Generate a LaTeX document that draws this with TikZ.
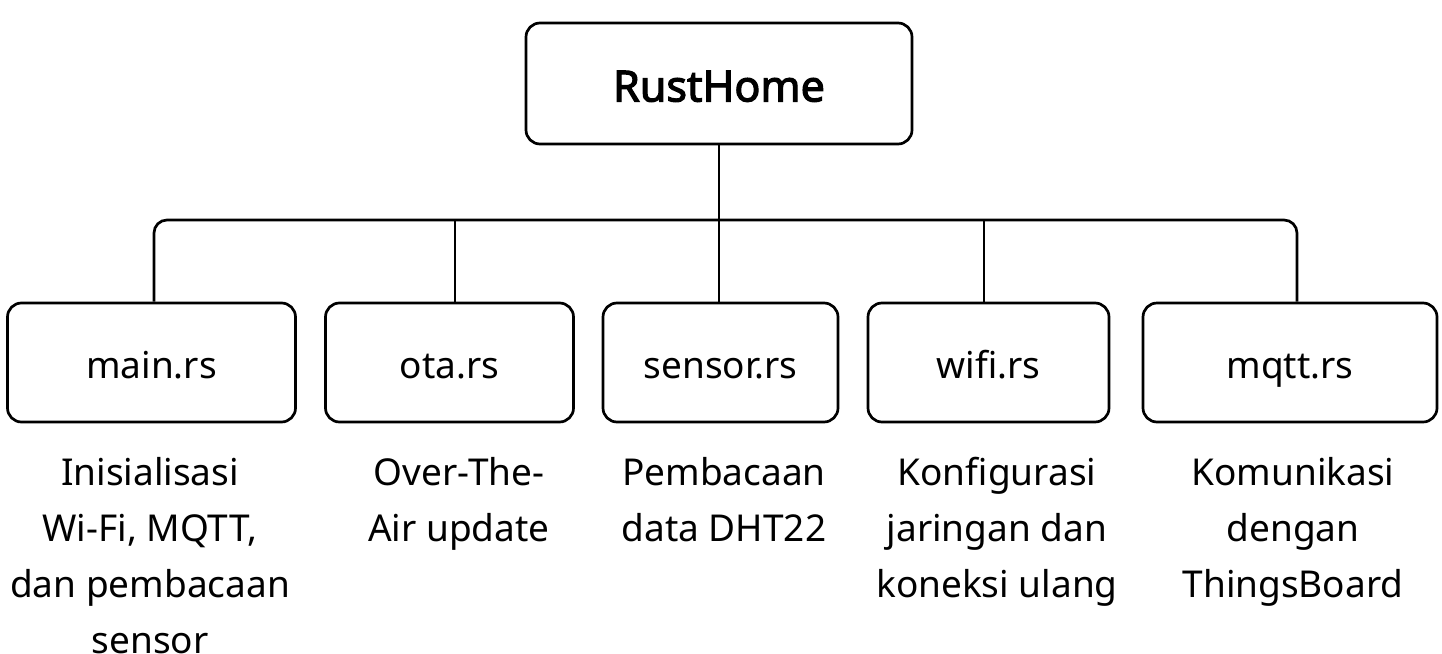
\documentclass[tikz,border=0pt]{standalone}
\usepackage{fontspec}
\setmainfont{Noto Sans}
\newfontfamily\rootfont{Noto Sans}[FakeBold=2.6]
\begin{document}
\begin{tikzpicture}[x=1pt,y=-1pt,
  box/.style={draw=black, line width=2.7pt, rounded corners=14pt, inner sep=0pt, minimum height=119pt, text height=31pt, text depth=0pt, font=\fontsize{37}{44}\selectfont},
  rootbox/.style={box, minimum width=386pt, minimum height=121pt, text height=36pt, font=\fontsize{43}{50}\rootfont},
  desc/.style={align=center, inner sep=0pt, anchor=north, font=\fontsize{37}{56}\selectfont},
  link/.style={draw=black, line width=2.7pt}]
\useasboundingbox (0,0) rectangle (1442,653);
\node[rootbox] (root) at (719,83.5) {RustHome};
\node[box, minimum width=288pt] (main) at (151.5,362.5) {main.rs};
\node[box, minimum width=248pt] (ota) at (449.5,362.5) {ota.rs};
\node[box, minimum width=235pt] (sensor) at (720.5,362.5) {sensor.rs};
\node[box, minimum width=241pt] (wifi) at (988.5,362.5) {wifi.rs};
\node[box, minimum width=294pt] (mqtt) at (1290,362.5) {mqtt.rs};
\coordinate (bus) at (719,220);
\draw[link] (root.south) -- (bus);
\draw[link, rounded corners=13pt] ([xshift=2.5pt]main.north) |- (bus) -| ([xshift=7pt]mqtt.north);
\draw[link] ([xshift=5.5pt]ota.north) -- ([xshift=5.5pt]ota.north |- bus);
\draw[link] ([xshift=-1.5pt]sensor.north) -- ([xshift=-1.5pt]sensor.north |- bus);
\draw[link] ([xshift=-4.5pt]wifi.north) -- ([xshift=-4.5pt]wifi.north |- bus);
\node[desc] (dmain) at (150,457) {Inisialisasi\\Wi-Fi, MQTT,\\dan pembacaan\\sensor};
\node[desc] (dota) at (459,457) {Over-The-\\Air update};
\node[desc] (dsensor) at (724,457) {Pembacaan\\data DHT22};
\node[desc] (dwifi) at (997,457) {Konfigurasi\\jaringan dan\\koneksi ulang};
\node[desc] (dmqtt) at (1293,457) {Komunikasi\\dengan\\ThingsBoard};
\end{tikzpicture}
\end{document}
